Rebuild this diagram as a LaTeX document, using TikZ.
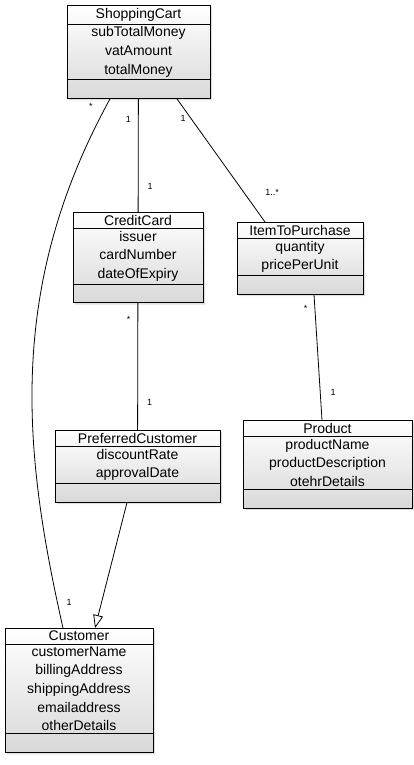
\documentclass[tikz,border=0pt]{standalone}
\usepackage{fontspec}
\setmainfont{Liberation Sans}
\usetikzlibrary{shapes.multipart,arrows.meta,shadows}

\newcommand{\emptyrow}{\rule{0pt}{13pt}}

\tikzset{
  umlclass/.style={rectangle split, rectangle split parts=3, draw, line width=.8pt,
    top color=white, bottom color=black!15,
    drop shadow={opacity=.25, shadow xshift=2pt, shadow yshift=-2pt},
    inner xsep=3pt, inner ysep=2.4pt, align=center, anchor=north,
    font=\fontsize{14}{18.6}\selectfont},
  mult/.style={font=\fontsize{9}{9}\selectfont, inner sep=1pt},
  assoc/.style={line width=.8pt},
  inherit/.style={line width=.8pt, -{Triangle[open,length=13pt,width=10pt]}},
}

\begin{document}
\begin{tikzpicture}[x=1pt,y=-1pt]

  \useasboundingbox (0,0) rectangle (414,765);

  % classes
  \node (cart) [umlclass, text width=137pt] at (138.5,5)
    {ShoppingCart \nodepart{two} subTotalMoney\\vatAmount\\totalMoney \nodepart{three}\emptyrow};
  \node (card) [umlclass, text width=124pt] at (138,212)
    {CreditCard \nodepart{two} issuer\\cardNumber\\dateOfExpiry \nodepart{three}\emptyrow};
  \node (item) [umlclass, text width=120pt] at (300,222)
    {ItemToPurchase \nodepart{two} quantity\\pricePerUnit \nodepart{three}\emptyrow};
  \node (pref) [umlclass, text width=159pt] at (137.5,430)
    {PreferredCustomer \nodepart{two} discountRate\\approvalDate \nodepart{three}\emptyrow};
  \node (product) [umlclass, text width=163pt] at (327.5,420)
    {Product \nodepart{two} productName\\productDescription\\otehrDetails \nodepart{three}\emptyrow};
  \node (customer) [umlclass, text width=142pt] at (79,628)
    {Customer \nodepart{two} customerName\\billingAddress\\shippingAddress\\emailaddress\\otherDetails \nodepart{three}\emptyrow};

  % associations
  \draw[assoc] ([xshift=-28.5pt]cart.south) .. controls (5,290) and (24,455) .. ([xshift=-16pt]customer.north)
    node[mult, pos=0, xshift=-19pt, yshift=-8pt] {*}
    node[mult, pos=.95, right=8pt] {1};
  \draw[assoc] (cart) -- (card)
    node[mult, pos=.18, left=6pt] {1}
    node[mult, pos=.77, right=8pt] {1};
  \draw[assoc] ([xshift=38.5pt]cart.south) -- ([xshift=-35pt]item.north)
    node[mult, pos=.16, left=4pt] {1}
    node[mult, pos=.76, right=20pt] {1..*};
  \draw[assoc] (card) -- (pref)
    node[mult, pos=.13, left=6pt] {*}
    node[mult, pos=.78, right=8pt] {1};
  \draw[assoc] ([xshift=14pt]item.south) -- ([xshift=-5.5pt]product.north)
    node[mult, pos=.11, left=6pt] {*}
    node[mult, pos=.78, right=9pt] {1};

  % generalization
  \draw[inherit] ([xshift=-10.5pt]pref.south) -- ([xshift=16pt]customer.north);

\end{tikzpicture}
\end{document}
